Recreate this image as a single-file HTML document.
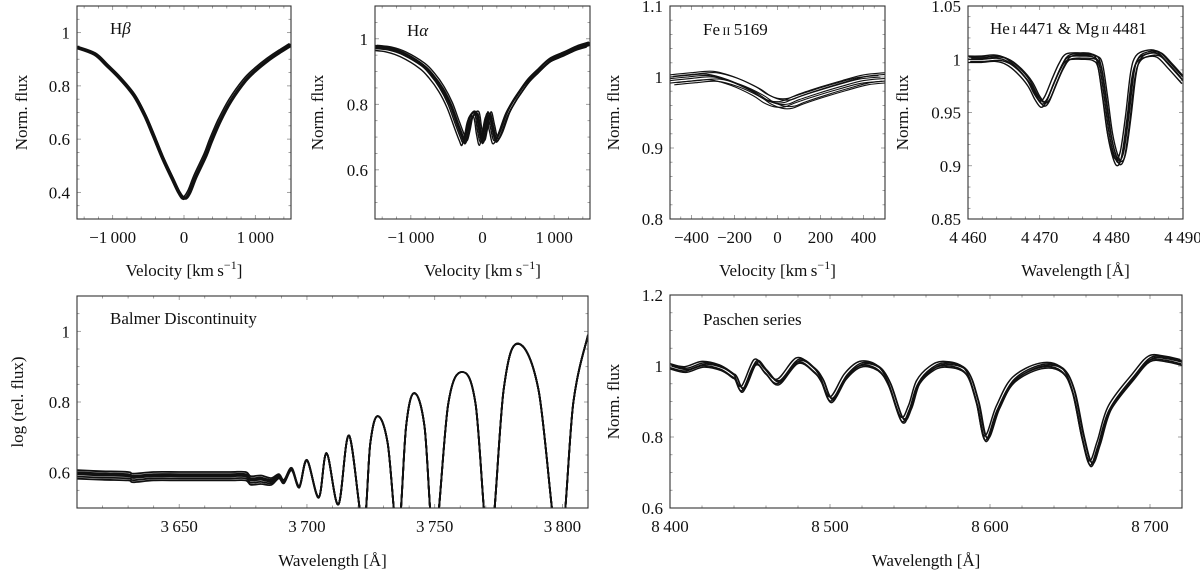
<!DOCTYPE html>
<html><head><meta charset="utf-8"><style>
html,body{margin:0;padding:0;background:#fff;}
svg, svg text{font-family:"Liberation Serif","DejaVu Serif",serif;}
</style></head><body>
<svg id="fig" width="1200" height="573" viewBox="0 0 1200 573" xmlns="http://www.w3.org/2000/svg"></svg>
<script>
// ---------- Data ----------
const hbV=[-1500,-1250,-1077,-900,-700,-550,-430,-300,-160,-70,0,70,160,300,378,500,650,850,1000,1185,1350,1500];
const hbF=[0.945,0.92,0.877,0.83,0.765,0.69,0.615,0.53,0.45,0.40,0.378,0.40,0.46,0.54,0.595,0.67,0.745,0.82,0.86,0.90,0.93,0.955];
const hbShift=[-20,-10,0,10,20,5];
const hbOff=[0.004,-0.004,0,0.003,-0.003,0.001];

const haV=[-1500,-1300,-1100,-835,-700,-568,-450,-350,-280,-242,-200,-160,-80,-40,0,40,90,140,186,250,350,450,510,640,775,950,1150,1350,1500];
const haF=[0.975,0.97,0.955,0.92,0.89,0.85,0.80,0.74,0.70,0.685,0.72,0.76,0.772,0.72,0.685,0.72,0.772,0.73,0.69,0.71,0.77,0.81,0.83,0.87,0.90,0.935,0.955,0.975,0.985];
const haShift=[-30,-15,0,15,30,-45,-8,8];
const haOff=[0,0.005,-0.005,0,0.005,-0.01,0.003,-0.003];

const feV=[-500,-400,-300,-200,-100,-50,0,50,100,200,300,400,500];
const feF=[0.995,0.998,1.0,0.992,0.978,0.968,0.962,0.962,0.968,0.978,0.987,0.995,0.998];
const feShift=[-30,-15,0,15,30,-20,20,0];
const feOff=[0.004,-0.004,0,0.006,-0.003,0.002,-0.006,0.008];

const heW=[4460,4462,4464,4465.5,4467,4468.5,4469.5,4470.3,4471,4472,4473,4474,4476,4477.5,4478.3,4479,4479.7,4480.4,4481,4481.6,4482.3,4483,4483.7,4485,4486.5,4488,4490];
const heF=[1.0,1.0,1.001,0.998,0.99,0.978,0.965,0.958,0.962,0.978,0.993,1.002,1.003,1.002,0.995,0.965,0.93,0.91,0.903,0.912,0.945,0.985,1.0,1.005,1.005,0.995,0.98];
const heShift=[-0.3,-0.15,0,0.15,0.3,0.45];
const heOff=[0.003,-0.003,0,0.002,-0.002,0.001];

const bdW=[3610,3620,3630,3632,3640,3650,3660,3670,3676,3678,3682,3686,3689,3691,3694,3697,3700,3704.6,3707.7,3712.3,3716.5,3722,3724.8,3727.7,3731.6,3735.6,3738.8,3742,3746,3749.9,3755.3,3760.7,3766,3771.4,3777,3782.5,3790.6,3798.7,3804.3,3810];
const bdF=[0.595,0.592,0.59,0.585,0.59,0.59,0.59,0.59,0.59,0.578,0.58,0.575,0.59,0.575,0.61,0.56,0.635,0.53,0.655,0.51,0.705,0.45,0.683,0.76,0.683,0.42,0.731,0.825,0.731,0.40,0.794,0.885,0.794,0.38,0.836,0.965,0.836,0.38,0.80,0.99];
const bdSpread=[1,1,1,1,1,1,1,1,1,1,1,0.8,0.5,0.4,0.3,0.2,0.1,0.1,0,0,0,0,0,0,0,0,0,0,0,0,0,0,0,0,0,0,0,0,0,0];
const bdOff=[-0.012,-0.006,0,0.006,0.012,0.003];

const paW=[8400,8410,8421,8432,8439,8441,8445.6,8453.5,8460,8468,8480,8490,8495,8501,8510,8519.5,8530,8537,8545,8550,8555,8563,8572,8585,8592,8597.5,8605,8615,8632,8645,8652,8658,8663,8668,8675,8690,8700,8710,8720];
const paF=[1.0,0.99,1.005,0.995,0.975,0.968,0.935,1.01,0.985,0.955,1.015,0.99,0.96,0.905,0.97,1.005,0.995,0.95,0.85,0.88,0.95,0.99,1.005,0.985,0.9,0.795,0.88,0.96,1.0,0.99,0.93,0.8,0.725,0.78,0.88,0.97,1.02,1.02,1.01];
const paShift=[-1,0,1,0.5,-0.5];
const paOff=[0.008,-0.008,0,0.004,-0.004];

const NS="http://www.w3.org/2000/svg";
const FONT='"Liberation Serif","DejaVu Serif",serif';
const svg=document.getElementById('fig');
function mk(tag,attrs,parent){const e=document.createElementNS(NS,tag);for(const k in attrs)e.setAttribute(k,attrs[k]);if(tag==='text')e.setAttribute('font-family',FONT);(parent||svg).appendChild(e);return e;}
function fmt(v){let s=String(Math.round(v*1000)/1000);
  let neg=s.startsWith('-');if(neg)s=s.slice(1);
  let [a,b]=s.split('.');if(a.length>3)a=a.slice(0,a.length-3)+'\u2009'+a.slice(-3);
  return (neg?'\u2212':'')+a+(b?'.'+b:'');}
function spline(pts){let d='M'+pts[0][0].toFixed(1)+','+pts[0][1].toFixed(1);
  for(let i=0;i<pts.length-1;i++){const p0=pts[i-1]||pts[i],p1=pts[i],p2=pts[i+1],p3=pts[i+2]||p2;
    const c1=[p1[0]+(p2[0]-p0[0])/6,p1[1]+(p2[1]-p0[1])/6],c2=[p2[0]-(p3[0]-p1[0])/6,p2[1]-(p3[1]-p1[1])/6];
    d+='C'+c1[0].toFixed(1)+','+c1[1].toFixed(1)+' '+c2[0].toFixed(1)+','+c2[1].toFixed(1)+' '+p2[0].toFixed(1)+','+p2[1].toFixed(1);}
  return d;}
let clipN=0;
function panel(cfg){
  const g=mk('g',{});
  
  
  const {x0,x1,y0,y1,xmin,xmax,ymin,ymax}=cfg;
  const sx=v=>x0+(v-xmin)/(xmax-xmin)*(x1-x0);
  const sy=v=>y1-(v-ymin)/(ymax-ymin)*(y1-y0);
  const cid='clip'+(clipN++);
  const cp=mk('clipPath',{id:cid},g);mk('rect',{x:x0,y:y0,width:x1-x0,height:y1-y0},cp);
  const tg=mk('g',{stroke:'#8a8a8a','stroke-width':0.8},g);
  
  
  const eps=1e-6;
  for(let v=Math.ceil(xmin/cfg.xminor-eps)*cfg.xminor;v<=xmax+eps;v+=cfg.xminor){const X=sx(v);
    const maj=cfg.xticks.some(t=>Math.abs(t-v)<1e-3);const L=maj?4:2.5;
    mk('line',{x1:X,x2:X,y1:y1,y2:y1-L},tg);mk('line',{x1:X,x2:X,y1:y0,y2:y0+L},tg);}
  for(let v=Math.ceil(ymin/cfg.yminor-eps)*cfg.yminor;v<=ymax+eps;v+=cfg.yminor){const Y=sy(v);
    const maj=cfg.yticks.some(t=>Math.abs(t-v)<1e-6);const L=maj?4:2.5;
    mk('line',{x1:x0,x2:x0+L,y1:Y,y2:Y},tg);mk('line',{x1:x1,x2:x1-L,y1:Y,y2:Y},tg);}
  const lg=mk('g',{'clip-path':'url(#'+cid+')',fill:'none',stroke:'#111','stroke-width':cfg.sw||1.2,'stroke-linejoin':'round'},g);
  cfg.shifts.forEach((sh,k)=>{
    const pts=cfg.xs.map((x,i)=>[sx(x+sh),sy(cfg.ys[i]+cfg.offs[k]*(cfg.spread?cfg.spread[i]:1))]);
    const p=mk('path',{d:spline(pts)},lg);
    
    
  });
  const fr=mk('rect',{x:x0,y:y0,width:x1-x0,height:y1-y0,fill:'none',stroke:'#333','stroke-width':1.1},g);
  
  
  cfg.xticks.forEach(t=>{const e=mk('text',{x:sx(t),y:cfg.xty,'text-anchor':'middle','font-size':17,fill:'#111'},g);e.textContent=fmt(t);
    
    });
  cfg.yticks.forEach(t=>{const e=mk('text',{x:x0-7,y:sy(t)+6,'text-anchor':'end','font-size':17,fill:'#111'},g);e.textContent=fmt(t);
    
    });
  const xl=mk('text',{x:(x0+x1)/2,y:cfg.xly,'text-anchor':'middle','font-size':17,fill:'#111'},g);xl.innerHTML=cfg.xlabel;
  
  
  const yl=mk('text',{x:0,y:0,'text-anchor':'middle','font-size':17,fill:'#111',transform:'translate('+(cfg.ylx+6)+','+((y0+y1)/2)+') rotate(-90)'},g);yl.textContent=cfg.ylabel;
  
  
  const an=mk('text',{x:cfg.ax,y:cfg.ay,'font-size':17,fill:'#111'},g);an.innerHTML=cfg.title;
  
  
}
const vel='Velocity [km\u2009s<tspan dy="-7" font-size="12">\u22121</tspan><tspan dy="7">]</tspan>';
panel({name:'hbeta-panel',x0:77,x1:291,y0:6,y1:219,xmin:-1500,xmax:1500,ymin:0.3,ymax:1.1,xminor:200,yminor:0.05,
  xticks:[-1000,0,1000],yticks:[0.4,0.6,0.8,1],xs:hbV,ys:hbF,shifts:hbShift,offs:hbOff,sw:1.6,
  xty:243,xly:276,ylx:21,ylabel:'Norm. flux',xlabel:vel,title:'H<tspan font-style="italic">β</tspan>',ax:110,ay:34});
panel({name:'halpha-panel',x0:375,x1:590,y0:6,y1:219,xmin:-1500,xmax:1500,ymin:0.45,ymax:1.1,xminor:200,yminor:0.05,
  xticks:[-1000,0,1000],yticks:[0.6,0.8,1],xs:haV,ys:haF,shifts:haShift,offs:haOff,sw:1.4,
  xty:243,xly:276,ylx:317,ylabel:'Norm. flux',xlabel:vel,title:'H<tspan font-style="italic">α</tspan>',ax:407,ay:36});
panel({name:'feii-panel',x0:670,x1:885,y0:6,y1:219,xmin:-500,xmax:500,ymin:0.8,ymax:1.1,xminor:50,yminor:0.02,
  xticks:[-400,-200,0,200,400],yticks:[0.8,0.9,1,1.1],xs:feV,ys:feF,shifts:feShift,offs:feOff,sw:1.1,
  xty:243,xly:276,ylx:613,ylabel:'Norm. flux',xlabel:vel,title:'Fe<tspan font-size="12">\u2009II</tspan>\u20095169',ax:703,ay:35});
panel({name:'hei-mgii-panel',x0:968,x1:1183,y0:6,y1:219,xmin:4460,xmax:4490,ymin:0.85,ymax:1.05,xminor:2,yminor:0.01,
  xticks:[4460,4470,4480,4490],yticks:[0.85,0.9,0.95,1,1.05],xs:heW,ys:heF,shifts:heShift,offs:heOff,sw:1.4,
  xty:243,xly:276,ylx:902,ylabel:'Norm. flux',xlabel:'Wavelength [Å]',title:'He<tspan font-size="12">\u2009I</tspan>\u20094471 &amp; Mg<tspan font-size="12">\u2009II</tspan>\u20094481',ax:990,ay:34});
panel({name:'balmer-panel',x0:77,x1:588,y0:296,y1:508,xmin:3610,xmax:3810,ymin:0.5,ymax:1.1,xminor:10,yminor:0.05,
  xticks:[3650,3700,3750,3800],yticks:[0.6,0.8,1],xs:bdW,ys:bdF,shifts:[0,0,0,0,0,0],offs:bdOff,spread:bdSpread,sw:1.8,
  xty:532,xly:566,ylx:17,ylabel:'log (rel. flux)',xlabel:'Wavelength [Å]',title:'Balmer Discontinuity',ax:110,ay:324});
panel({name:'paschen-panel',x0:670,x1:1182,y0:295,y1:508,xmin:8400,xmax:8720,ymin:0.6,ymax:1.2,xminor:20,yminor:0.05,
  xticks:[8400,8500,8600,8700],yticks:[0.6,0.8,1,1.2],xs:paW,ys:paF,shifts:paShift,offs:paOff,sw:1.5,
  xty:532,xly:566,ylx:613,ylabel:'Norm. flux',xlabel:'Wavelength [Å]',title:'Paschen series',ax:703,ay:325});
</script>
</body></html>
